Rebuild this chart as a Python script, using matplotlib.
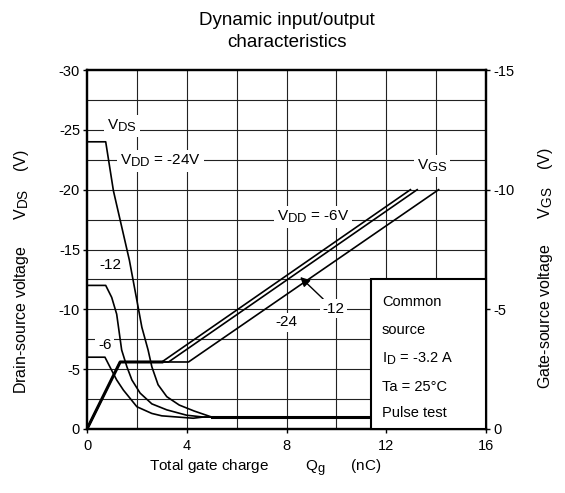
import matplotlib
matplotlib.use("Agg")
import matplotlib.pyplot as plt
from matplotlib.patches import Rectangle
try:
    import matplotlib._mathtext as _mt
    _mt.SHRINK_FACTOR = 0.85
except Exception:
    pass

plt.rcParams['font.family'] = ['Liberation Sans', 'DejaVu Sans']
plt.rcParams['mathtext.fontset'] = 'custom'
plt.rcParams['mathtext.rm'] = 'Liberation Sans'
plt.rcParams['mathtext.it'] = 'Liberation Sans:italic'

# ---- data ----
# Drain-source voltage curves (left axis)
qg_vds_24 = [0, 0.75, 1.06, 1.70, 2.0, 2.2, 2.45, 2.6, 2.85, 3.2, 3.7, 4.3, 5.0, 16]
vds_24 = [-24, -24, -19.9, -14.1, -10.75, -8.5, -6.6, -5.2, -3.7, -2.7, -2.0, -1.5, -1.0, -1.0]
qg_vds_12 = [0, 0.75, 0.99, 1.19, 1.39, 1.6, 1.8, 2.13, 2.6, 3.2, 4.0, 4.66, 16]
vds_12 = [-12, -12, -11, -9.6, -6.6, -5.2, -4.1, -3.0, -2.1, -1.6, -1.15, -1.0, -1.0]
qg_vds_6 = [0, 0.72, 0.99, 1.19, 1.46, 2.0, 2.6, 3.0, 4.26, 4.66, 16]
vds_6 = [-6, -6, -4.9, -4.1, -3.25, -1.86, -1.3, -1.1, -0.9, -1.0, -1.0]

# Gate-source voltage curves (right axis)
qg_vgs_6 = [0, 1.33, 3.0, 12.97]
qg_vgs_12 = [0, 1.33, 3.27, 13.24]
qg_vgs_24 = [0, 1.33, 4.07, 14.1]
vgs = [0, -2.8, -2.8, -10]

x_ticks = [0, 4, 8, 12, 16]
y_left_ticks = [0, -5, -10, -15, -20, -25, -30]
y_right_ticks = [0, -5, -10, -15]

box_lines = ["Common", "source", "I$_\\mathrm{D}$ = -3.2 A", "Ta = 25°C", "Pulse test"]

# ---- figure ----
fig = plt.figure(figsize=(5.65, 4.93), dpi=100)
ax = fig.add_axes([87/565, 64/493, 399/565, 359/493])
ax2 = ax.twinx()

ax.set_xlim(0, 16)
ax.set_ylim(0, -30)
ax2.set_ylim(0, -15)

# grid
for gx in range(2, 16, 2):
    ax.axvline(gx, color='#222222', lw=0.8, zorder=0)
for i in range(1, 12):
    ax.axhline(-2.5 * i, color='#222222', lw=0.8, zorder=0)

lw = 1.2
ax.plot(qg_vds_24, vds_24, color='k', lw=lw)
ax.plot(qg_vds_12, vds_12, color='k', lw=lw)
ax.plot(qg_vds_6, vds_6, color='k', lw=lw)

ax2.plot(qg_vgs_6, vgs, color='k', lw=lw)
ax2.plot(qg_vgs_12, vgs, color='k', lw=lw)
ax2.plot(qg_vgs_24, vgs, color='k', lw=lw)
# shared segments appear heavier
ax2.plot(qg_vgs_6[:3], vgs[:3], color='k', lw=2.2)
ax.plot(qg_vds_24[-2:], vds_24[-2:], color='k', lw=2.2)

ax.set_xticks(x_ticks)
ax.set_yticks(y_left_ticks)
ax2.set_yticks(y_right_ticks)
ax.set_xticklabels([str(t) for t in x_ticks])
ax.set_yticklabels([str(t) for t in y_left_ticks])
ax2.set_yticklabels([str(t) for t in y_right_ticks])

for a in (ax, ax2):
    a.tick_params(direction='out', length=3, width=1, labelsize=10.5, pad=2)
    for s in a.spines.values():
        s.set_linewidth(1.6)
ax.tick_params(axis='x', pad=4)

fs = 11
wb = dict(facecolor='white', edgecolor='none', pad=2)
T = ax.transData

def lab(x, y, s, ha='center'):
    ax2.text(x, y, s, transform=T, ha=ha, va='center', fontsize=fs, bbox=wb, zorder=5)

lab(1.4, -25.3, r'V$_\mathrm{DS}$')
lab(1.33, -22.4, r'V$_\mathrm{DD}$ = -24V', ha='left')
lab(7.62, -17.7, r'V$_\mathrm{DD}$ = -6V', ha='left')
lab(13.24, -22.0, r'V$_\mathrm{GS}$', ha='left')
lab(8.0, -8.9, '-24')
lab(0.92, -13.7, '-12')
lab(0.72, -7.0, '-6')

ax2.annotate('-12', xy=(8.55, -12.7), xycoords=T, xytext=(9.88, -10.05), textcoords=T,
             ha='center', va='center', fontsize=fs, bbox=wb, zorder=5,
             arrowprops=dict(arrowstyle='-|>', color='k', lw=1, mutation_scale=14,
                             shrinkA=0, shrinkB=0))

ax2.add_patch(Rectangle((11.37, 0), 16 - 11.37, -12.5, transform=T, facecolor='white',
                        edgecolor='k', lw=1.5, zorder=6, clip_on=False))
box_y = [-10.6, -8.25, -5.9, -3.5, -1.33]
for yy, s in zip(box_y, box_lines):
    ax2.text(11.83, yy, s, transform=T, ha='left', va='center', fontsize=10.5, zorder=7)

sp = ' '
ax.set_ylabel('Drain-source voltage' + sp * 6 + 'V$_\\mathrm{DS}$' + sp * 4 + '(V)',
              fontsize=11.5)
ax2.set_ylabel('Gate-source voltage' + sp * 6 + 'V$_\\mathrm{GS}$' + sp * 4 + '(V)',
               fontsize=11.5)
ax.set_xlabel('Total gate charge' + sp * 9 + 'Q$_\\mathrm{g}$' + sp * 6 + '(nC)',
              fontsize=11)
ax.yaxis.set_label_coords((22 - 87) / 399, (429 - 272) / 359)
ax2.yaxis.set_label_coords((545 - 87) / 399, (429 - 268) / 359)
ax.xaxis.set_label_coords((265 - 87) / 399, -(468 - 429) / 359)
ax.yaxis.label.set_va('center')
ax2.yaxis.label.set_va('center')
ax.xaxis.label.set_va('center')

fig.text(287/565, 1 - 12/493, 'Dynamic input/output\ncharacteristics', ha='center', va='top',
         fontsize=13.5, linespacing=1.42)

fig.savefig('out.png', dpi=100)
